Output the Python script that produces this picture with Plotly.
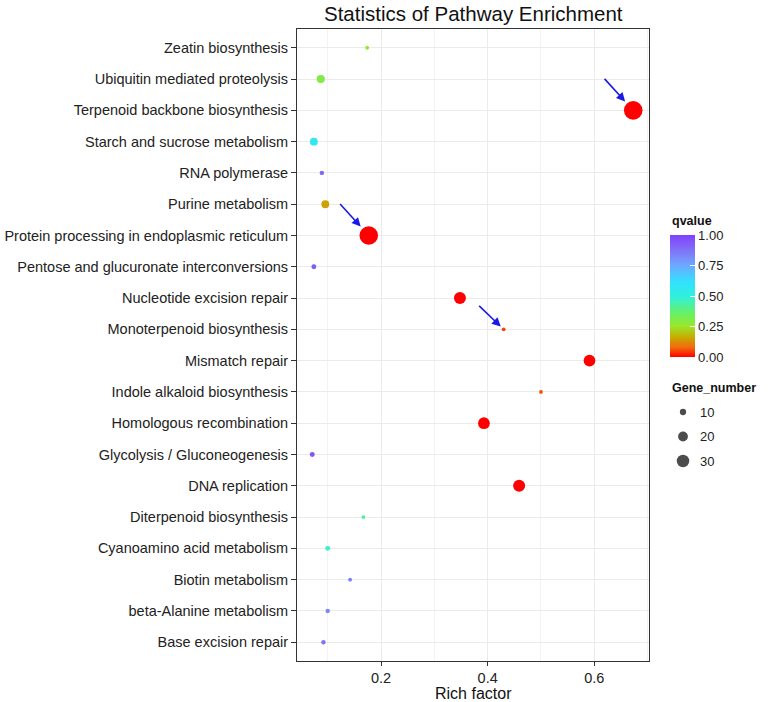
import plotly.graph_objects as go
import numpy as np

# ---------------- data ----------------
categories = [
    "Base excision repair", "beta-Alanine metabolism", "Biotin metabolism",
    "Cyanoamino acid metabolism", "Diterpenoid biosynthesis", "DNA replication",
    "Glycolysis / Gluconeogenesis", "Homologous recombination",
    "Indole alkaloid biosynthesis", "Mismatch repair", "Monoterpenoid biosynthesis",
    "Nucleotide excision repair", "Pentose and glucuronate interconversions",
    "Protein processing in endoplasmic reticulum", "Purine metabolism",
    "RNA polymerase", "Starch and sucrose metabolism",
    "Terpenoid backbone biosynthesis", "Ubiquitin mediated proteolysis",
    "Zeatin biosynthesis",
]
rich_factor = [0.092, 0.100, 0.142, 0.100, 0.167, 0.459, 0.071, 0.393, 0.500, 0.591,
               0.430, 0.348, 0.074, 0.177, 0.0955, 0.089, 0.074, 0.673, 0.087, 0.174]
qvalue = [0.87, 0.82, 0.85, 0.48, 0.42, 0.0, 0.95, 0.0, 0.06, 0.0,
          0.05, 0.0, 0.93, 0.0, 0.15, 0.90, 0.56, 0.0, 0.30, 0.27]
gene_number = [6, 6, 5, 7, 5, 28, 7, 27, 5, 27,
               5, 28, 7, 60, 14, 6, 14, 60, 15, 5]
legend_sizes = [10, 20, 30]
highlighted = ["Terpenoid backbone biosynthesis",
               "Protein processing in endoplasmic reticulum",
               "Monoterpenoid biosynthesis"]
x_ticks = [0.2, 0.4, 0.6]

# ---------------- styling helpers ----------------
FONT = "Liberation Sans, Arial, Helvetica, sans-serif"


def diam(n):
    n = np.asarray(n, dtype=float)
    return np.clip(2.68 * np.sqrt(n) - 2.17, 3.0, None)


colorscale = [
    [0.00, "#FF0000"], [0.08, "#F26B0F"], [0.16, "#C8AA00"], [0.25, "#9AE62A"],
    [0.35, "#6BF060"], [0.50, "#2EF0E0"], [0.62, "#33E0FF"], [0.75, "#6FA8FF"],
    [0.88, "#8070F5"], [1.00, "#8040FF"],
]

W, H = 768, 702
ML, MR, MT, MB = 297, 0, 29, 41
PW = W - ML - MR
PH = H - MT - MB
main_right = 352 / PW


def px_x(px):  # screen pixel -> paper x
    return (px - ML) / PW


def px_y(py):  # screen pixel -> paper y
    return (H - MB - py) / PH


fig = go.Figure()

fig.add_trace(go.Scatter(
    x=rich_factor, y=categories, mode="markers",
    marker=dict(size=diam(gene_number), color=qvalue, cmin=0, cmax=1,
                colorscale=colorscale, opacity=1, line=dict(width=0),
                colorbar=dict(
                    x=px_x(670), xanchor="left", xpad=0,
                    y=px_y(296), yanchor="middle", ypad=0,
                    len=122, lenmode="pixels", thickness=25,
                    outlinewidth=0,
                    tickvals=[0, 0.25, 0.5, 0.75, 1.0],
                    ticktext=["0.00", "0.25", "0.50", "0.75", "1.00"],
                    ticks="inside", ticklen=5, tickcolor="white",
                    tickfont=dict(family=FONT, size=13, color="#222"),
                )),
    showlegend=False, hoverinfo="x+y",
))

# size legend on its own small axes
fig.add_trace(go.Scatter(
    x=[0] * len(legend_sizes), y=list(range(len(legend_sizes))), mode="markers",
    marker=dict(size=diam(legend_sizes), color="black", line=dict(width=0)),
    xaxis="x2", yaxis="y2", showlegend=False, hoverinfo="skip",
))

annotations = []
for i, s in enumerate(legend_sizes):
    annotations.append(dict(
        x=px_x(698), xref="paper", y=i, yref="y2", text=str(s), showarrow=False,
        xanchor="left", yanchor="middle", font=dict(family=FONT, size=13, color="#222")))

annotations += [
    dict(x=px_x(670), xref="paper", y=px_y(221), yref="paper", text="<b>qvalue</b>",
         showarrow=False, xanchor="left", yanchor="middle",
         font=dict(family=FONT, size=12.5, color="#111")),
    dict(x=px_x(670), xref="paper", y=px_y(388), yref="paper", text="<b>Gene_number</b>",
         showarrow=False, xanchor="left", yanchor="middle",
         font=dict(family=FONT, size=12.5, color="#111")),
    dict(x=main_right / 2, xref="paper", y=px_y(684), yref="paper", text="Rich factor",
         showarrow=False, xanchor="center", yanchor="top", borderpad=0,
         font=dict(family=FONT, size=16, color="#111")),
    dict(x=main_right / 2, xref="paper", y=px_y(13), yref="paper",
         text="Statistics of Pathway Enrichment",
         showarrow=False, xanchor="center", yanchor="middle",
         font=dict(family=FONT, size=20.5, color="#111")),
]

# arrows pointing at highlighted pathways
arrow_offsets = {"Terpenoid backbone biosynthesis": (-30, -33, 12),
                 "Protein processing in endoplasmic reticulum": (-30, -33, 12),
                 "Monoterpenoid biosynthesis": (-26, -25, 4)}
for name in highlighted:
    i = categories.index(name)
    ax, ay, so = arrow_offsets[name]
    annotations.append(dict(
        x=rich_factor[i], y=name, xref="x", yref="y", text="", showarrow=True,
        ax=ax, ay=ay, axref="pixel", ayref="pixel", arrowhead=2, arrowsize=1.1,
        arrowwidth=1.6, arrowcolor="#1A1AE6", standoff=so))

fig.update_layout(
    width=W, height=H,
    margin=dict(l=ML, r=MR, t=MT, b=MB, autoexpand=False),
    paper_bgcolor="white", plot_bgcolor="white",
    font=dict(family=FONT, color="#222"),
    xaxis=dict(domain=[0, main_right], range=[0.0424, 0.7026],
               tickvals=x_ticks, ticktext=[f"{v:.1f}" for v in x_ticks],
               showgrid=True, gridcolor="#EBEBEB", gridwidth=1,
               minor=dict(dtick=0.1, tick0=0, showgrid=True, gridcolor="#F3F3F3",
                          gridwidth=0.6, ticks=""),
               ticks="outside", ticklen=4, tickcolor="#333",
               tickfont=dict(family=FONT, size=14.5, color="#222"),
               showline=True, linecolor="#333", linewidth=1, mirror=True,
               zeroline=False, automargin=False),
    yaxis=dict(categoryorder="array", categoryarray=categories,
               range=[-0.6, len(categories) - 0.4],
               showgrid=True, gridcolor="#EBEBEB", gridwidth=1,
               ticks="outside", ticklen=5, tickcolor="#333",
               tickfont=dict(family=FONT, size=14.5, color="#222"),
               showline=True, linecolor="#333", linewidth=1, mirror=True,
               zeroline=False, automargin=False),
    xaxis2=dict(domain=[px_x(673), px_x(693)], range=[-1, 1], visible=False,
                anchor="y2", fixedrange=True),
    yaxis2=dict(domain=[px_y(473.25), px_y(399.75)], range=[2.5, -0.5], visible=False,
                anchor="x2", fixedrange=True),
    annotations=annotations,
)

fig.write_html("out.html",
               config={"displayModeBar": False},
               post_script="document.body.style.margin='0px';"
                           "document.body.style.overflow='hidden';")
